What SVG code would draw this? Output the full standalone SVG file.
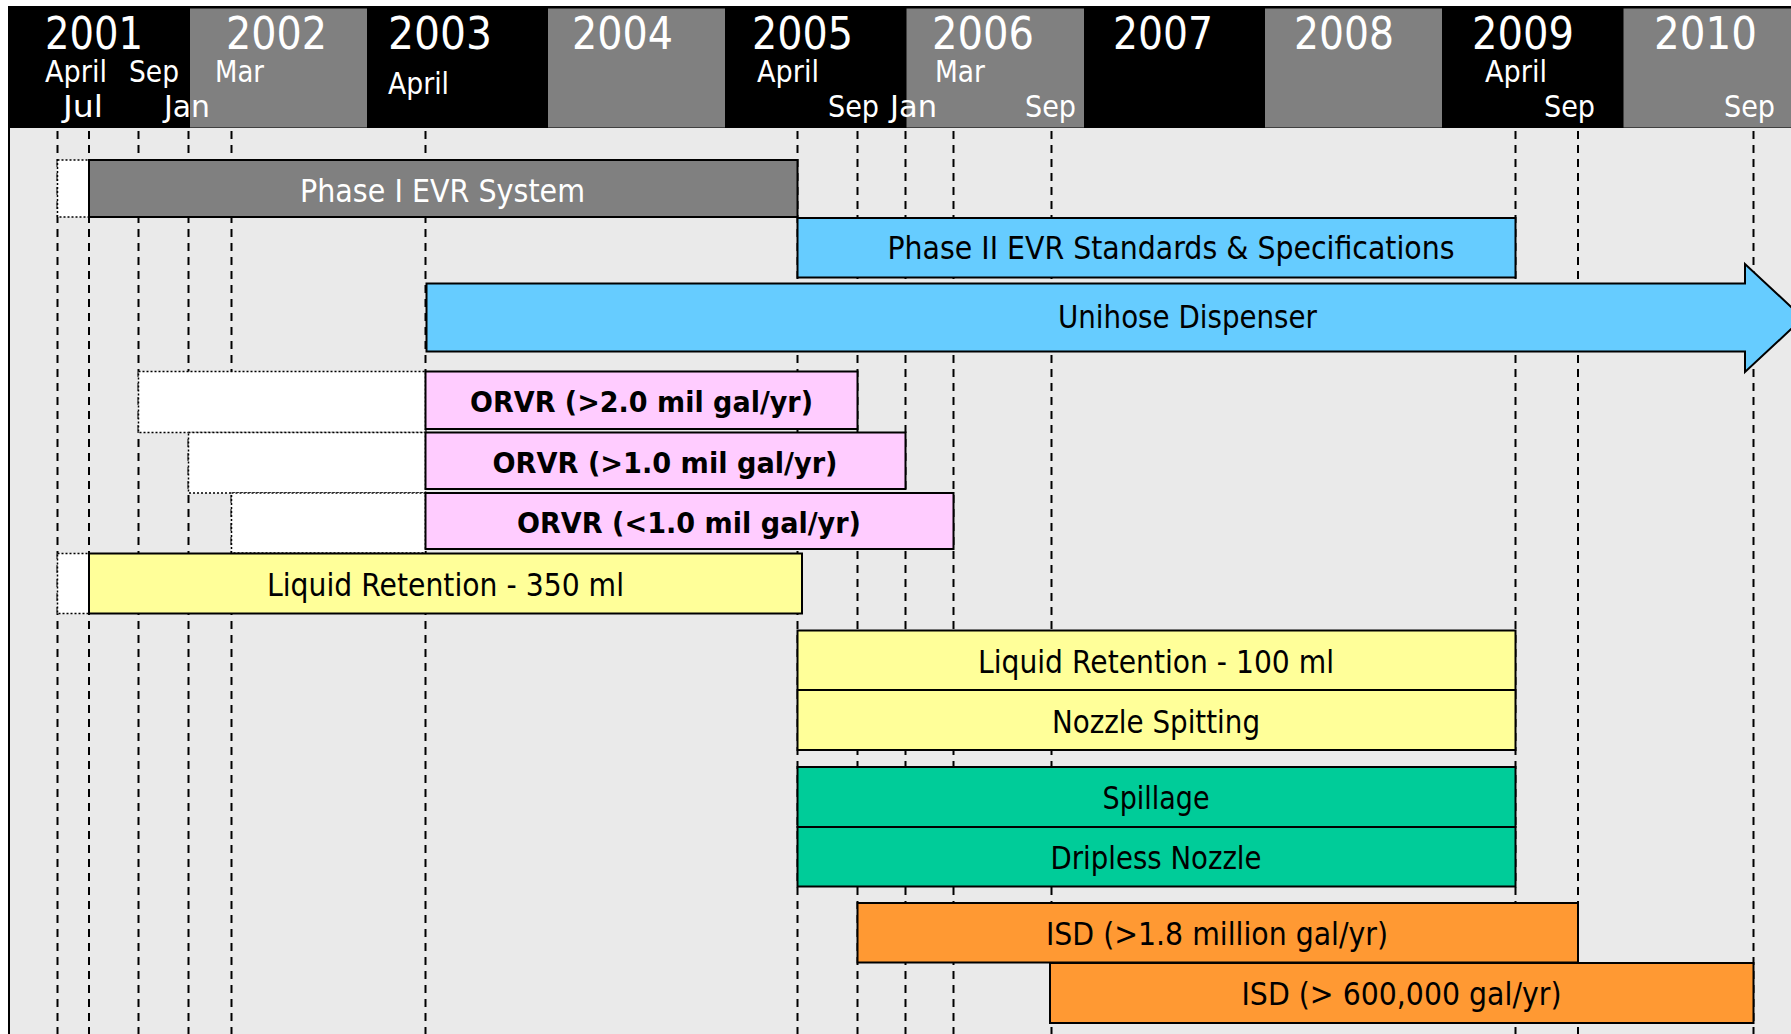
<svg xmlns="http://www.w3.org/2000/svg" width="1791" height="1034" viewBox="0 0 1791 1034">
<style>
.yr{font-family:"DejaVu Sans","Liberation Sans",sans-serif;font-size:44px;fill:#fff}
.mo{font-family:"DejaVu Sans","Liberation Sans",sans-serif;font-size:30px;fill:#fff}
.lb{font-family:"DejaVu Sans","Liberation Sans",sans-serif;font-size:32px;fill:#000;text-anchor:middle}
.lbw{fill:#fff}
.bold{font-weight:bold;font-size:29px}
.bar{stroke:#000;stroke-width:2}
.ghost{fill:#fff;stroke:#000;stroke-width:1.5;stroke-dasharray:2 2}
.grid line{stroke:#000;stroke-width:2;stroke-dasharray:8 6}
</style>
<rect x="0" y="0" width="1791" height="1034" fill="#fff"/>
<g id="header">
<rect x="8" y="6" width="1783" height="122" fill="#000"/>
<rect x="190" y="8.5" width="177" height="119" fill="#808080"/>
<rect x="548" y="8.5" width="177" height="119" fill="#808080"/>
<rect x="906.5" y="8.5" width="177.5" height="119" fill="#808080"/>
<rect x="1265" y="8.5" width="177" height="119" fill="#808080"/>
<rect x="1623.5" y="8.5" width="168" height="119" fill="#808080"/>
<text class="yr" x="45" y="49" textLength="98" lengthAdjust="spacingAndGlyphs">2001</text>
<text class="yr" x="226" y="49" textLength="101" lengthAdjust="spacingAndGlyphs">2002</text>
<text class="yr" x="388" y="49" textLength="104" lengthAdjust="spacingAndGlyphs">2003</text>
<text class="yr" x="572" y="49" textLength="101" lengthAdjust="spacingAndGlyphs">2004</text>
<text class="yr" x="752" y="49" textLength="101" lengthAdjust="spacingAndGlyphs">2005</text>
<text class="yr" x="932" y="49" textLength="102" lengthAdjust="spacingAndGlyphs">2006</text>
<text class="yr" x="1113" y="49" textLength="100" lengthAdjust="spacingAndGlyphs">2007</text>
<text class="yr" x="1294" y="49" textLength="100" lengthAdjust="spacingAndGlyphs">2008</text>
<text class="yr" x="1472" y="49" textLength="102" lengthAdjust="spacingAndGlyphs">2009</text>
<text class="yr" x="1654" y="49" textLength="103" lengthAdjust="spacingAndGlyphs">2010</text>
<text class="mo" x="45" y="82" textLength="62" lengthAdjust="spacingAndGlyphs">April</text>
<text class="mo" x="129" y="82" textLength="50" lengthAdjust="spacingAndGlyphs">Sep</text>
<text class="mo" x="215" y="82" textLength="49" lengthAdjust="spacingAndGlyphs">Mar</text>
<text class="mo" x="63" y="117" textLength="40" lengthAdjust="spacingAndGlyphs">Jul</text>
<text class="mo" x="164" y="117" textLength="46" lengthAdjust="spacingAndGlyphs">Jan</text>
<text class="mo" x="388" y="94" textLength="61" lengthAdjust="spacingAndGlyphs">April</text>
<text class="mo" x="757" y="82" textLength="62" lengthAdjust="spacingAndGlyphs">April</text>
<text class="mo" x="935" y="82" textLength="50" lengthAdjust="spacingAndGlyphs">Mar</text>
<text class="mo" x="828" y="117" textLength="51" lengthAdjust="spacingAndGlyphs">Sep</text>
<text class="mo" x="890" y="117" textLength="47" lengthAdjust="spacingAndGlyphs">Jan</text>
<text class="mo" x="1025" y="117" textLength="51" lengthAdjust="spacingAndGlyphs">Sep</text>
<text class="mo" x="1485" y="82" textLength="62" lengthAdjust="spacingAndGlyphs">April</text>
<text class="mo" x="1544" y="117" textLength="51" lengthAdjust="spacingAndGlyphs">Sep</text>
<text class="mo" x="1724" y="117" textLength="51" lengthAdjust="spacingAndGlyphs">Sep</text>
</g>
<g id="body-bg">
<rect x="8" y="128" width="1783" height="906" fill="#eaeaea"/>
<line x1="9" y1="128" x2="9" y2="1034" stroke="#000" stroke-width="2"/>
</g>
<g id="gridlines" class="grid">
<line x1="57.5" y1="131" x2="57.5" y2="1034"/>
<line x1="89" y1="131" x2="89" y2="1034"/>
<line x1="138.5" y1="131" x2="138.5" y2="1034"/>
<line x1="188.5" y1="131" x2="188.5" y2="1034"/>
<line x1="231.5" y1="131" x2="231.5" y2="1034"/>
<line x1="425.5" y1="131" x2="425.5" y2="1034"/>
<line x1="797.5" y1="131" x2="797.5" y2="1034"/>
<line x1="857.5" y1="131" x2="857.5" y2="1034"/>
<line x1="905.5" y1="131" x2="905.5" y2="1034"/>
<line x1="953.5" y1="131" x2="953.5" y2="1034"/>
<line x1="1051.5" y1="131" x2="1051.5" y2="1034"/>
<line x1="1515.5" y1="131" x2="1515.5" y2="1034"/>
<line x1="1578" y1="131" x2="1578" y2="1034"/>
<line x1="1753.5" y1="131" x2="1753.5" y2="1034"/>
</g>
<g id="phase1">
<rect class="ghost" x="57.5" y="160" width="31.5" height="57"/>
<rect class="bar" x="89" y="160" width="708.5" height="57" fill="#808080"/>
<text class="lb lbw" x="442.5" y="202" textLength="285" lengthAdjust="spacingAndGlyphs">Phase I EVR System</text>
</g>
<g id="phase2">
<rect class="bar" x="797.5" y="218" width="718" height="59.5" fill="#66ccff"/>
<text class="lb" x="1171" y="259" textLength="567" lengthAdjust="spacingAndGlyphs">Phase II EVR Standards &amp; Specifications</text>
</g>
<g id="unihose">
<polygon class="bar" points="426.5,283.5 1745,283.5 1745,264 1803,318 1745,372 1745,351.5 426.5,351.5" fill="#66ccff"/>
<text class="lb" x="1187.5" y="328" textLength="259" lengthAdjust="spacingAndGlyphs">Unihose Dispenser</text>
</g>
<g id="orvr1">
<rect class="ghost" x="138.5" y="371.5" width="287" height="61"/>
<rect class="bar" x="425.5" y="371.5" width="432" height="57.5" fill="#ffccff"/>
<text class="lb bold" x="641.5" y="412" textLength="343" lengthAdjust="spacingAndGlyphs">ORVR (&gt;2.0 mil gal/yr)</text>
</g>
<g id="orvr2">
<rect class="ghost" x="188.5" y="432.5" width="237" height="60.5"/>
<rect class="bar" x="425.5" y="432.5" width="480" height="56.5" fill="#ffccff"/>
<text class="lb bold" x="665" y="473" textLength="345" lengthAdjust="spacingAndGlyphs">ORVR (&gt;1.0 mil gal/yr)</text>
</g>
<g id="orvr3">
<rect class="ghost" x="231.5" y="493" width="194" height="60"/>
<rect class="bar" x="425.5" y="493" width="528" height="56" fill="#ffccff"/>
<text class="lb bold" x="689" y="533" textLength="344" lengthAdjust="spacingAndGlyphs">ORVR (&lt;1.0 mil gal/yr)</text>
</g>
<g id="lr350">
<rect class="ghost" x="57.5" y="553.5" width="31.5" height="60"/>
<rect class="bar" x="89" y="553.5" width="713" height="60" fill="#ffff99"/>
<text class="lb" x="445.5" y="596" textLength="357" lengthAdjust="spacingAndGlyphs">Liquid Retention - 350 ml</text>
</g>
<g id="lr100">
<rect class="bar" x="797.5" y="630.5" width="718" height="59.5" fill="#ffff99"/>
<text class="lb" x="1156" y="673" textLength="356" lengthAdjust="spacingAndGlyphs">Liquid Retention - 100 ml</text>
</g>
<g id="spitting">
<rect class="bar" x="797.5" y="690" width="718" height="60" fill="#ffff99"/>
<text class="lb" x="1156" y="733" textLength="208" lengthAdjust="spacingAndGlyphs">Nozzle Spitting</text>
</g>
<g id="spillage">
<rect class="bar" x="797.5" y="767" width="718" height="60" fill="#00cc99"/>
<text class="lb" x="1156" y="809" textLength="107" lengthAdjust="spacingAndGlyphs">Spillage</text>
</g>
<g id="dripless">
<rect class="bar" x="797.5" y="827" width="718" height="59.5" fill="#00cc99"/>
<text class="lb" x="1156" y="869" textLength="211" lengthAdjust="spacingAndGlyphs">Dripless Nozzle</text>
</g>
<g id="isd1">
<rect class="bar" x="857.5" y="903" width="720.5" height="59.5" fill="#ff9933"/>
<text class="lb" x="1217" y="945" textLength="342" lengthAdjust="spacingAndGlyphs">ISD (&gt;1.8 million gal/yr)</text>
</g>
<g id="isd2">
<rect class="bar" x="1050" y="963" width="703.5" height="60" fill="#ff9933"/>
<text class="lb" x="1401.5" y="1005" textLength="320" lengthAdjust="spacingAndGlyphs">ISD (&gt; 600,000 gal/yr)</text>
</g>
</svg>
